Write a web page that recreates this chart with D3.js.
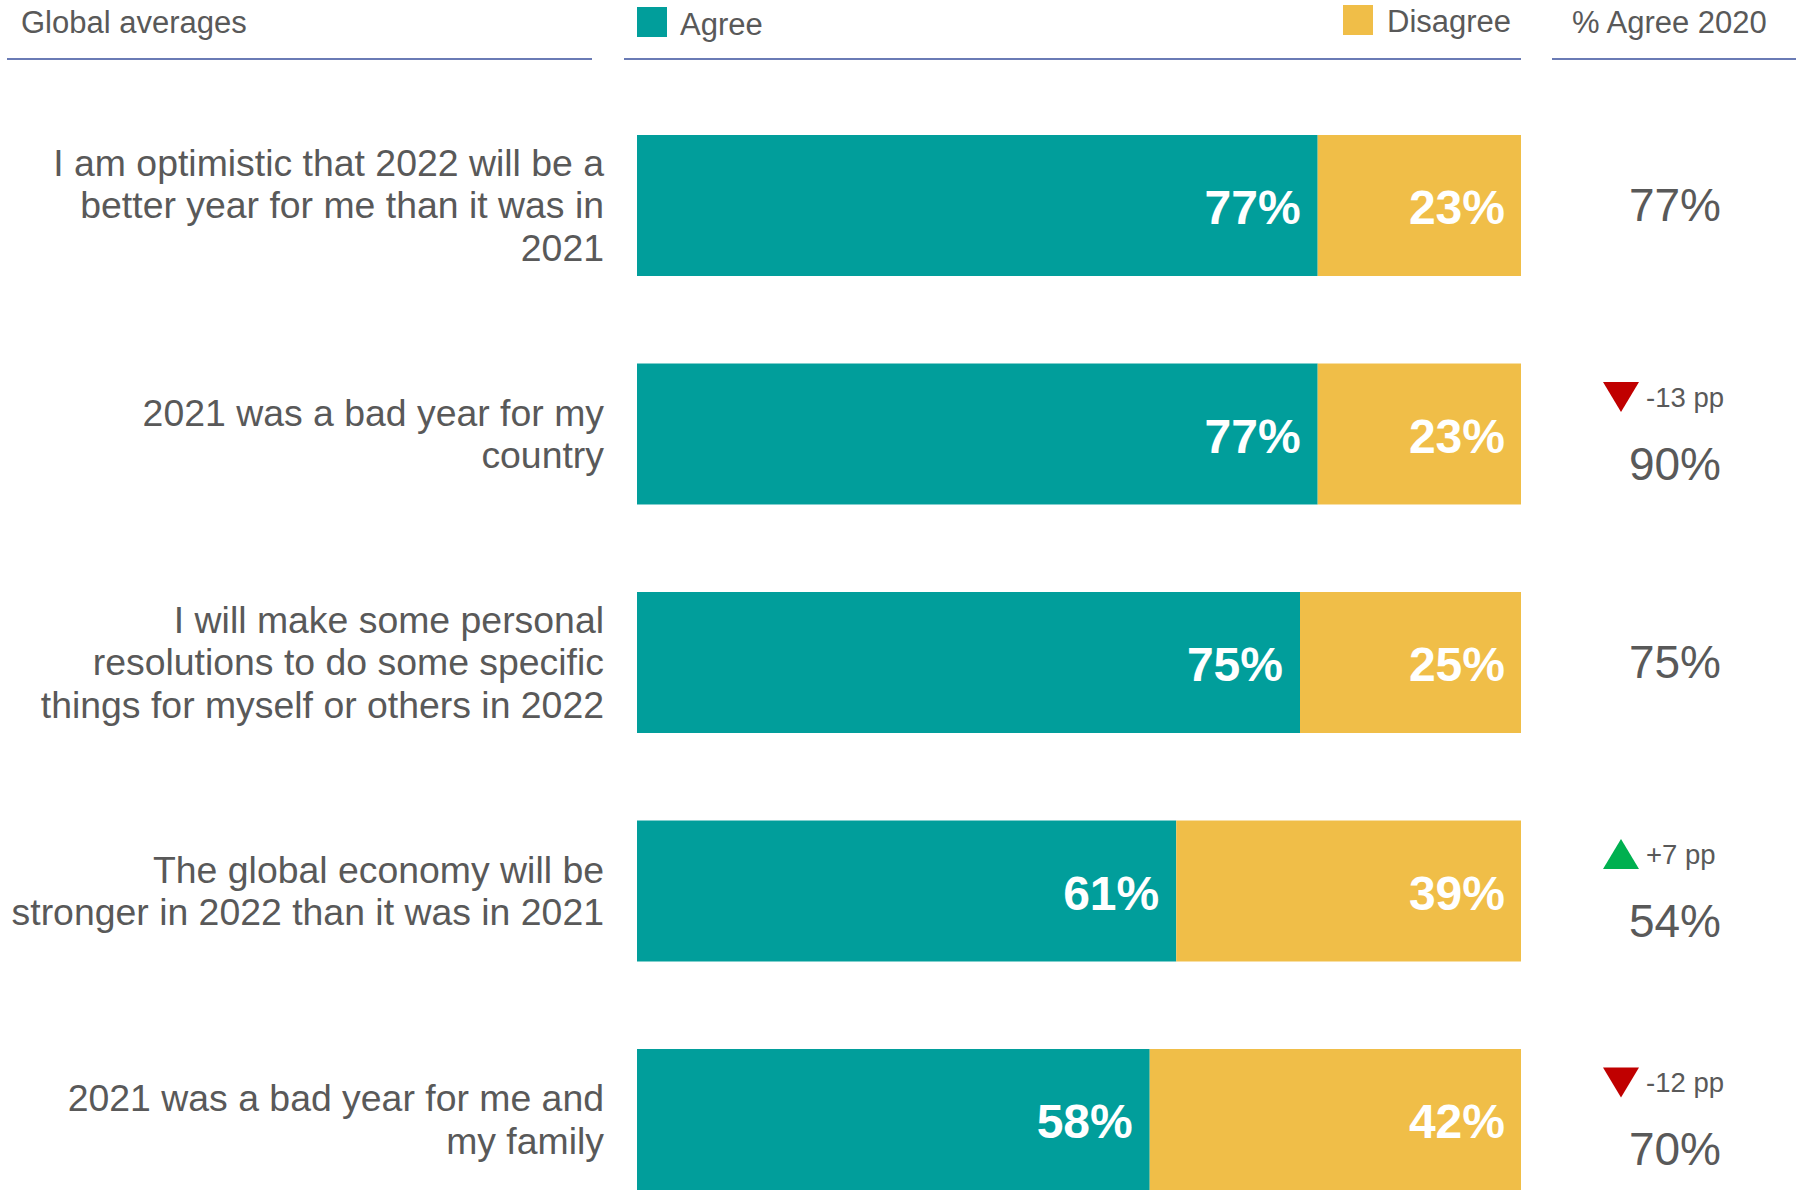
<!DOCTYPE html>
<html>
<head>
<meta charset="utf-8">
<script src="https://cdn.jsdelivr.net/npm/d3@7"></script>
<style>
  body { margin:0; background:#fff; }
  svg text { font-family: "Liberation Sans", Arial, sans-serif; }
</style>
</head>
<body>
<div id="chart"></div>
<script>
// statements (split into lines as on the slide)
var categories = [
  ["I am optimistic that 2022 will be a", "better year for me than it was in", "2021"],
  ["2021 was a bad year for my", "country"],
  ["I will make some personal", "resolutions to do some specific", "things for myself or others in 2022"],
  ["The global economy will be", "stronger in 2022 than it was in 2021"],
  ["2021 was a bad year for me and", "my family"]
]
var agree = [77, 77, 75, 61, 58]
var disagree = [23, 23, 25, 39, 42]
var agree2020 = [77, 90, 75, 54, 70]
var change = [null, -13, null, 7, -12]   // pp vs 2020, null = no marker

var headers = ["Global averages", "Agree", "Disagree", "% Agree 2020"]

var W = 1796, H = 1190
var teal = "#019e9b", gold = "#f0be48", grey = "#595959", lineCol = "#6a7bb5"

var svg = d3.select('#chart').append('svg').attr('width', W).attr('height', H)

var x = d3.scaleLinear().domain([0, 100]).range([637, 1521])
var y = d3.scaleBand().domain(d3.range(categories.length))
          .range([135, 1190]).paddingInner(0.383).paddingOuter(0)

// header
svg.append('text').attr('x', 21).attr('y', 33).attr('font-size', 31).attr('fill', grey).text(headers[0])
svg.append('rect').attr('x', 637).attr('y', 7).attr('width', 30).attr('height', 30).attr('fill', teal)
svg.append('text').attr('x', 680).attr('y', 35).attr('font-size', 31).attr('fill', grey).text(headers[1])
svg.append('rect').attr('x', 1343).attr('y', 5).attr('width', 30).attr('height', 30).attr('fill', gold)
svg.append('text').attr('x', 1387).attr('y', 32).attr('font-size', 31).attr('fill', grey).text(headers[2])
svg.append('text').attr('x', 1572).attr('y', 33).attr('font-size', 31).attr('fill', grey).text(headers[3])

var hLines = [[7, 592], [624, 1521], [1552, 1796]]
svg.selectAll('line.hdr').data(hLines).enter().append('line')
  .attr('class', 'hdr')
  .attr('x1', function(d){ return d[0] }).attr('x2', function(d){ return d[1] })
  .attr('y1', 59).attr('y2', 59)
  .attr('stroke', lineCol).attr('stroke-width', 2)

var rows = svg.selectAll('g.row').data(categories).enter().append('g')
  .attr('class', 'row')
  .attr('transform', function(d, i){ return 'translate(0,' + y(i) + ')' })

var bh = y.bandwidth()

rows.append('rect')
  .attr('x', x(0)).attr('y', 0)
  .attr('width', function(d, i){ return x(agree[i]) - x(0) })
  .attr('height', bh).attr('fill', teal)

rows.append('rect')
  .attr('x', function(d, i){ return x(agree[i]) }).attr('y', 0)
  .attr('width', function(d, i){ return x(agree[i] + disagree[i]) - x(agree[i]) })
  .attr('height', bh).attr('fill', gold)

rows.append('text')
  .attr('x', function(d, i){ return x(agree[i]) - 17 })
  .attr('y', bh / 2 + 19)
  .attr('text-anchor', 'end').attr('font-size', 48).attr('font-weight', 'bold').attr('fill', '#fff')
  .text(function(d, i){ return agree[i] + '%' })

rows.append('text')
  .attr('x', function(d, i){ return x(agree[i] + disagree[i]) - 16 })
  .attr('y', bh / 2 + 19)
  .attr('text-anchor', 'end').attr('font-size', 48).attr('font-weight', 'bold').attr('fill', '#fff')
  .text(function(d, i){ return disagree[i] + '%' })

// statement labels
var lineH = 42.5
rows.append('text')
  .attr('text-anchor', 'end').attr('font-size', 37.4).attr('fill', grey)
  .each(function(d){
    var t = d3.select(this)
    var top = bh / 2 - (d.length - 1) * lineH / 2
    d.forEach(function(str, k){
      t.append('tspan').attr('x', 604).attr('y', top + k * lineH + 13).text(str)
    })
  })

// 2020 column
rows.append('text')
  .attr('x', 1675)
  .attr('y', function(d, i){ return bh / 2 + 16 + (change[i] == null ? 0 : 30) })
  .attr('text-anchor', 'middle').attr('font-size', 46).attr('fill', grey)
  .text(function(d, i){ return agree2020[i] + '%' })

var marked = rows.filter(function(d, i){ return change[i] != null })
marked.append('path')
  .attr('d', function(d){
    var i = categories.indexOf(d)
    var cy = bh / 2 - 37
    return change[i] < 0
      ? 'M1603,' + (cy - 15) + 'L1639,' + (cy - 15) + 'L1621,' + (cy + 15) + 'Z'
      : 'M1603,' + (cy + 15) + 'L1639,' + (cy + 15) + 'L1621,' + (cy - 15) + 'Z'
  })
  .attr('fill', function(d){ return change[categories.indexOf(d)] < 0 ? '#c00000' : '#00b050' })

marked.append('text')
  .attr('x', 1646).attr('y', bh / 2 - 37 + 10)
  .attr('font-size', 27.5).attr('fill', grey)
  .text(function(d){
    var c = change[categories.indexOf(d)]
    return (c > 0 ? '+' : '') + c + ' pp'
  })
</script>
</body>
</html>
